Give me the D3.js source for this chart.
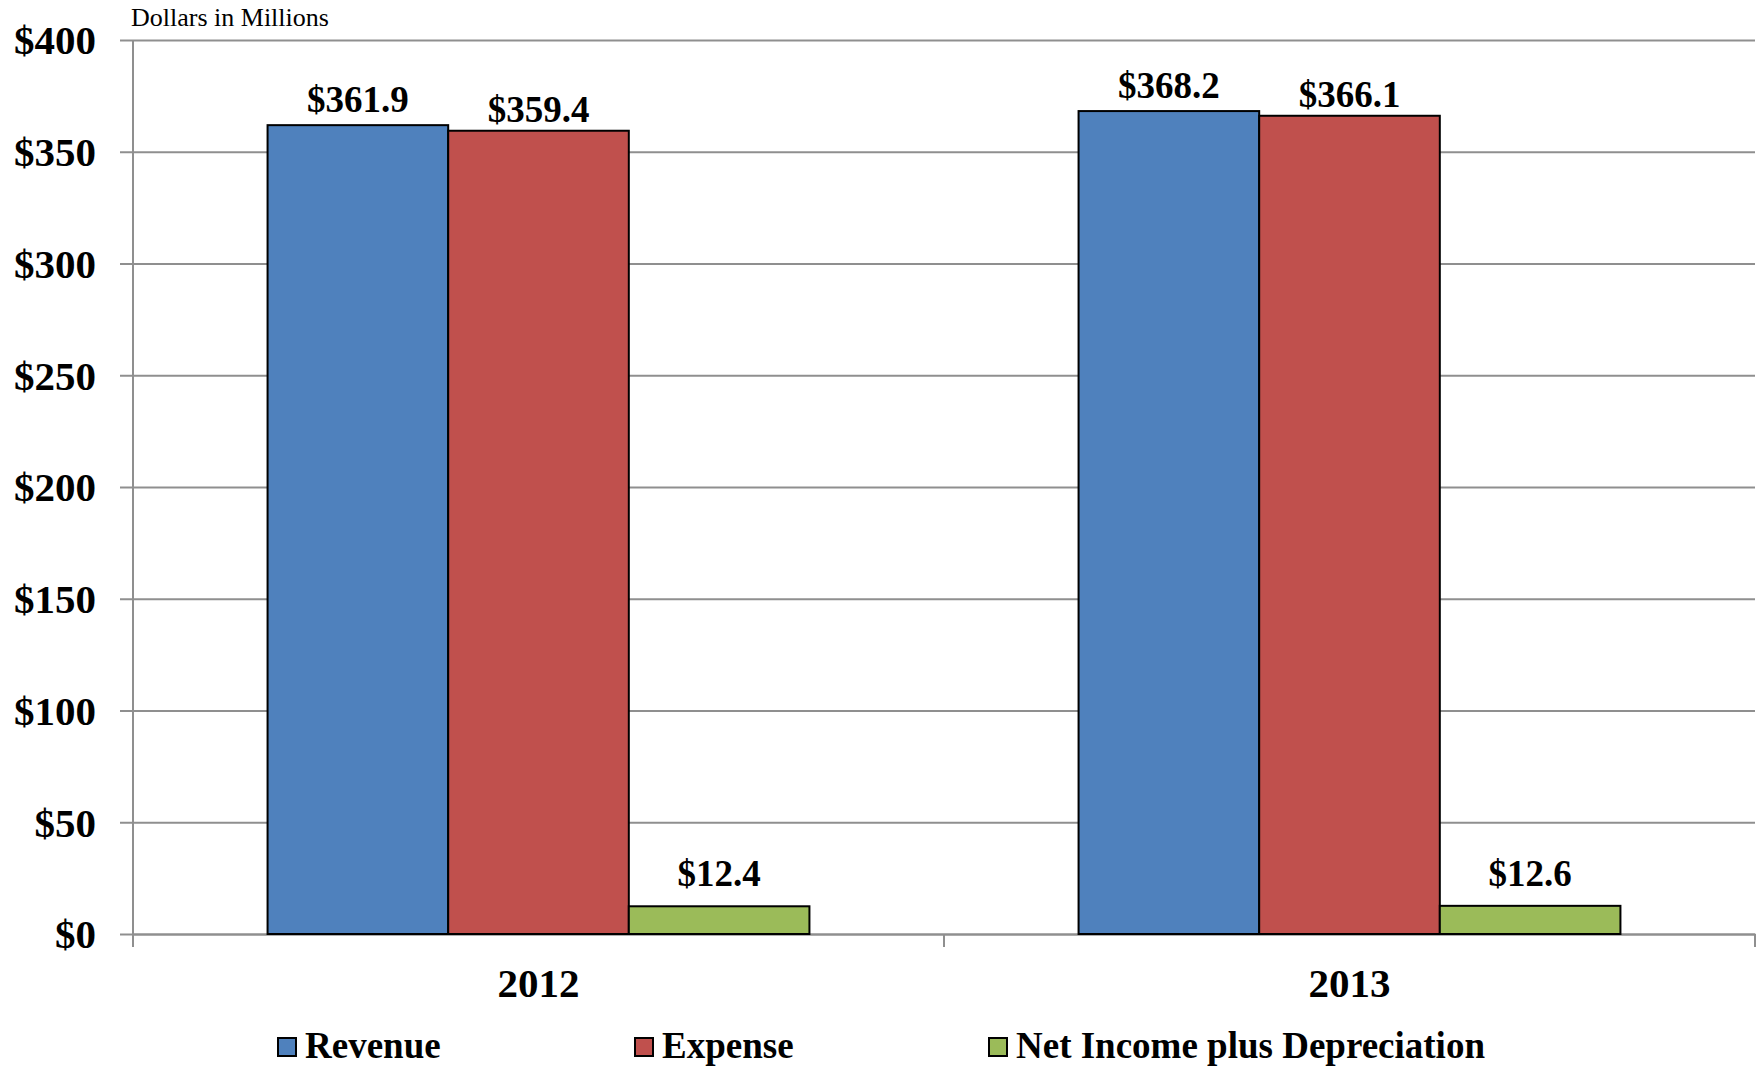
<!DOCTYPE html>
<html>
<head>
<meta charset="utf-8">
<script src="https://cdn.jsdelivr.net/npm/d3@7"></script>
<style>
  html, body { margin: 0; padding: 0; background: #fff; }
  svg { display: block; }
  text { font-family: "Liberation Serif", "Times New Roman", serif; fill: #000; }
</style>
</head>
<body>
<svg id="chart" width="1762" height="1066"></svg>
<script>
// Fiscal years shown along the x axis
const years = ["2012", "2013"];

// Series names and their values (dollars in millions)
const seriesNames = ["Revenue", "Expense", "Net Income plus Depreciation"];
const revenue = [361.9, 368.2];
const expense = [359.4, 366.1];
const netIncomePlusDep = [12.4, 12.6];

// Value axis ticks
const yTicks = [0, 50, 100, 150, 200, 250, 300, 350, 400];

const seriesColors = ["#4F81BD", "#C0504D", "#9BBB59"];
const seriesValues = [revenue, expense, netIncomePlusDep];
// Gap between each series' bar top and its value label baseline
const labelGap = [13, 9, 20];

const svg = d3.select("#chart");

const plot = { left: 133, right: 1755, top: 40, bottom: 934 };

const y = d3.scaleLinear()
  .domain([0, 400])
  .range([plot.bottom, plot.top]);

const x0 = d3.scaleBand()
  .domain(years)
  .range([plot.left, plot.right])
  .padding(0);

const x1 = d3.scaleBand()
  .domain(seriesNames)
  .range([0, x0.bandwidth()])
  .paddingInner(0)
  .paddingOuter(0.745);

const gridColor = "#8f8f8f";

// Horizontal gridlines with small ticks to the left of the value axis
const yAxis = d3.axisLeft(y)
  .tickValues(yTicks)
  .tickSize(plot.right - plot.left + 13)
  .tickFormat(d => "$" + d);

const gy = svg.append("g")
  .attr("transform", `translate(${plot.right},0)`)
  .call(yAxis);
gy.select(".domain").remove();
gy.selectAll(".tick line")
  .attr("stroke", gridColor)
  .attr("stroke-width", 2);
gy.selectAll(".tick text")
  .attr("x", -(plot.right - 96))
  .attr("dy", "0.34em")
  .attr("text-anchor", "end")
  .style("font-size", "41px")
  .style("font-weight", "bold");

// Vertical value-axis line
svg.append("line")
  .attr("x1", plot.left).attr("x2", plot.left)
  .attr("y1", plot.top).attr("y2", plot.bottom + 13)
  .attr("stroke", gridColor)
  .attr("stroke-width", 2);

// Category axis: baseline, tick marks between categories and labels
const xAxis = d3.axisBottom(x0).tickSize(0).tickPadding(0);
const gx = svg.append("g")
  .attr("transform", `translate(0,${plot.bottom})`)
  .call(xAxis);
gx.select(".domain")
  .attr("stroke", gridColor)
  .attr("stroke-width", 2);
gx.selectAll(".tick text")
  .attr("y", 63)
  .attr("dy", 0)
  .style("font-size", "41px")
  .style("font-weight", "bold");

const boundaries = years.map(d => x0(d)).concat([x0(years[years.length - 1]) + x0.bandwidth()]);
svg.append("g").selectAll("line")
  .data(boundaries)
  .join("line")
  .attr("x1", d => d).attr("x2", d => d)
  .attr("y1", plot.bottom).attr("y2", plot.bottom + 13)
  .attr("stroke", gridColor)
  .attr("stroke-width", 2);

// Bars
const rows = [];
years.forEach((yr, i) => {
  seriesNames.forEach((s, j) => {
    rows.push({ year: yr, series: s, value: seriesValues[j][i], color: seriesColors[j], gap: labelGap[j] });
  });
});

const bars = svg.append("g");
bars.selectAll("rect")
  .data(rows)
  .join("rect")
  .attr("x", d => x0(d.year) + x1(d.series))
  .attr("y", d => y(d.value))
  .attr("width", x1.bandwidth())
  .attr("height", d => y(0) - y(d.value))
  .attr("fill", d => d.color)
  .attr("stroke", "#000")
  .attr("stroke-width", 2);

// Value labels above each bar
svg.append("g").selectAll("text")
  .data(rows)
  .join("text")
  .attr("x", d => x0(d.year) + x1(d.series) + x1.bandwidth() / 2)
  .attr("y", d => y(d.value) - d.gap)
  .attr("text-anchor", "middle")
  .style("font-size", "37px")
  .style("font-weight", "bold")
  .text(d => "$" + d3.format(".1f")(d.value));

// Unit note
svg.append("text")
  .attr("x", 131)
  .attr("y", 26)
  .style("font-size", "26px")
  .text("Dollars in Millions");

// Legend
const legendX = [278, 635, 989];
const legend = svg.append("g");
const items = legend.selectAll("g")
  .data(seriesNames)
  .join("g")
  .attr("transform", (d, i) => `translate(${legendX[i]},1038)`);
items.append("rect")
  .attr("width", 18)
  .attr("height", 18)
  .attr("fill", (d, i) => seriesColors[i])
  .attr("stroke", "#000")
  .attr("stroke-width", 2);
items.append("text")
  .attr("x", 27)
  .attr("y", 20)
  .style("font-size", "37px")
  .style("font-weight", "bold")
  .text(d => d);
</script>
</body>
</html>
